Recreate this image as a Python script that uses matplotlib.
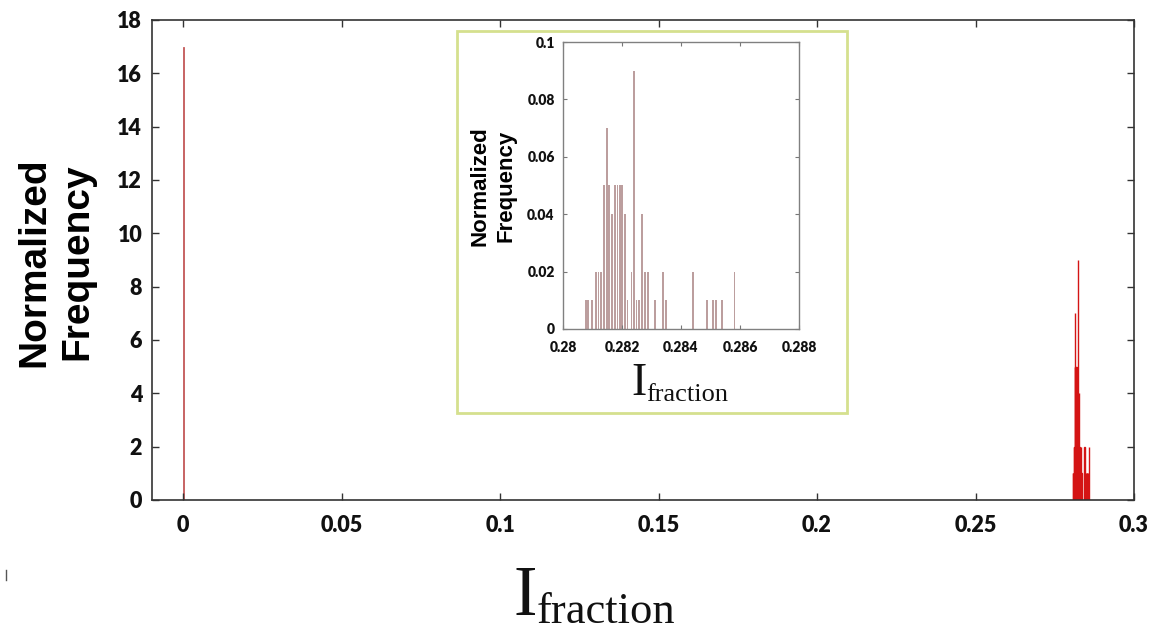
import matplotlib
matplotlib.use("Agg")
import matplotlib.pyplot as plt
from matplotlib.patches import Rectangle
from matplotlib.lines import Line2D

# ---------------- data ----------------
zero_x = [0.0]
zero_height = [17]

cluster_x = [0.28077, 0.28086, 0.28099, 0.28111, 0.28120, 0.28130, 0.28139, 0.28148,
             0.28157, 0.28167, 0.28176, 0.28185, 0.28192, 0.28201, 0.28209, 0.28219,
             0.28232, 0.28241, 0.28249, 0.28258, 0.28267, 0.28278, 0.28288, 0.28311,
             0.28338, 0.28348, 0.28440, 0.28487, 0.28509, 0.28519, 0.28540, 0.28581]
main_cluster_height = [1, 1, 1, 2, 2, 2, 5, 7, 5, 4, 5, 5, 5, 5, 4, 1,
                       2, 9, 1, 1, 4, 2, 2, 1, 2, 1, 2, 1, 1, 1, 1, 2]
inset_freq = [0.01, 0.01, 0.01, 0.02, 0.02, 0.02, 0.05, 0.07, 0.05, 0.04, 0.05, 0.05,
              0.05, 0.05, 0.04, 0.01, 0.02, 0.09, 0.01, 0.01, 0.04, 0.02, 0.02, 0.01,
              0.02, 0.01, 0.02, 0.01, 0.01, 0.01, 0.01, 0.02]

main_xticks = [0, 0.05, 0.1, 0.15, 0.2, 0.25, 0.3]
main_xticklabels = ["0", "0.05", "0.1", "0.15", "0.2", "0.25", "0.3"]
main_yticks = [0, 2, 4, 6, 8, 10, 12, 14, 16, 18]
inset_xticks = [0.28, 0.282, 0.284, 0.286, 0.288]
inset_xticklabels = ["0.28", "0.282", "0.284", "0.286", "0.288"]
inset_yticks = [0, 0.02, 0.04, 0.06, 0.08, 0.1]
inset_yticklabels = ["0", "0.02", "0.04", "0.06", "0.08", "0.1"]

W, H = 1155, 631
fig = plt.figure(figsize=(W / 100, H / 100), dpi=100)
fig.patch.set_facecolor("white")


def fx(px):
    return px / W


def fy(py):
    return 1 - py / H


tick_font = dict(family="Lato", weight="heavy")

# ---------------- main axes ----------------
ax = fig.add_axes([fx(152), fy(500), fx(1134) - fx(152), fy(20) - fy(500)])
ax.bar(zero_x, zero_height, width=0.0003, color="#c45a5a", edgecolor="#c45a5a",
       linewidth=0.6)
ax.bar(cluster_x, main_cluster_height, width=0.00009, color="#ee1111",
       edgecolor="#d41414", linewidth=1.0)
ax.set_xlim(-0.0098, 0.3)
ax.set_ylim(0, 18)
ax.set_xticks(main_xticks)
ax.set_xticklabels(main_xticklabels, fontsize=15.5, **tick_font)
ax.set_yticks(main_yticks)
ax.set_yticklabels([str(v) for v in main_yticks], fontsize=15.5, **tick_font)
ax.tick_params(direction="in", length=5, width=1, top=True, right=True,
               colors="#333333", labelcolor="#111111")
ax.tick_params(axis="x", pad=11)
ax.tick_params(axis="y", pad=7)
for s in ax.spines.values():
    s.set_color("#333333")
    s.set_linewidth(1.2)

fig.text(fx(56), fy(262), "Normalized\nFrequency", rotation=90, ha="center",
         va="center", fontsize=28, fontweight="bold", family="Liberation Sans",
         linespacing=1.25, multialignment="center")

fig.text(fx(514), fy(615), "I", fontsize=51, family="Liberation Serif",
         ha="left", va="baseline", color="#111111")
fig.text(fx(537), fy(623), "fraction", fontsize=32, family="Liberation Serif",
         ha="left", va="baseline", color="#111111")

# ---------------- inset frame ----------------
fig.patches.append(Rectangle((fx(457), fy(413)), fx(847) - fx(457), fy(31) - fy(413),
                             transform=fig.transFigure, facecolor="white",
                             edgecolor="#d5e08e", linewidth=2.0, zorder=5))

# ---------------- inset axes ----------------
ins = fig.add_axes([fx(563), fy(329), fx(799) - fx(563), fy(42) - fy(329)])
ins.set_zorder(10)
ins.bar(cluster_x, inset_freq, width=0.00006, color="#bc9e9e", linewidth=0)
ins.set_xlim(0.28, 0.288)
ins.set_ylim(0, 0.1)
ins.set_xticks(inset_xticks)
ins.set_xticklabels(inset_xticklabels, fontsize=10, **tick_font)
ins.set_yticks(inset_yticks)
ins.set_yticklabels(inset_yticklabels, fontsize=10, **tick_font)
ins.tick_params(direction="in", length=3, width=0.8, top=True, right=True,
                colors="#777777", labelcolor="#111111")
ins.tick_params(axis="x", pad=9)
ins.tick_params(axis="y", pad=6)
for s in ins.spines.values():
    s.set_color("#808080")
    s.set_linewidth(1.0)

fig.text(fx(493), fy(186), "Normalized\nFrequency", rotation=90, ha="center",
         va="center", fontsize=16, fontweight="bold", family="Liberation Sans",
         linespacing=1.3, multialignment="center", zorder=11)
fig.text(fx(631), fy(395), "I", fontsize=33, family="Liberation Serif",
         ha="left", va="baseline", color="#111111", zorder=11)
fig.text(fx(646), fy(401), "fraction", fontsize=19, family="Liberation Serif",
         ha="left", va="baseline", color="#111111", zorder=11)

# small stray mark at lower left of the original
fig.lines.append(Line2D([fx(6), fx(6)], [fy(570), fy(580)], transform=fig.transFigure,
                        color="#555555", linewidth=1))

fig.savefig("out.png", dpi=100)
